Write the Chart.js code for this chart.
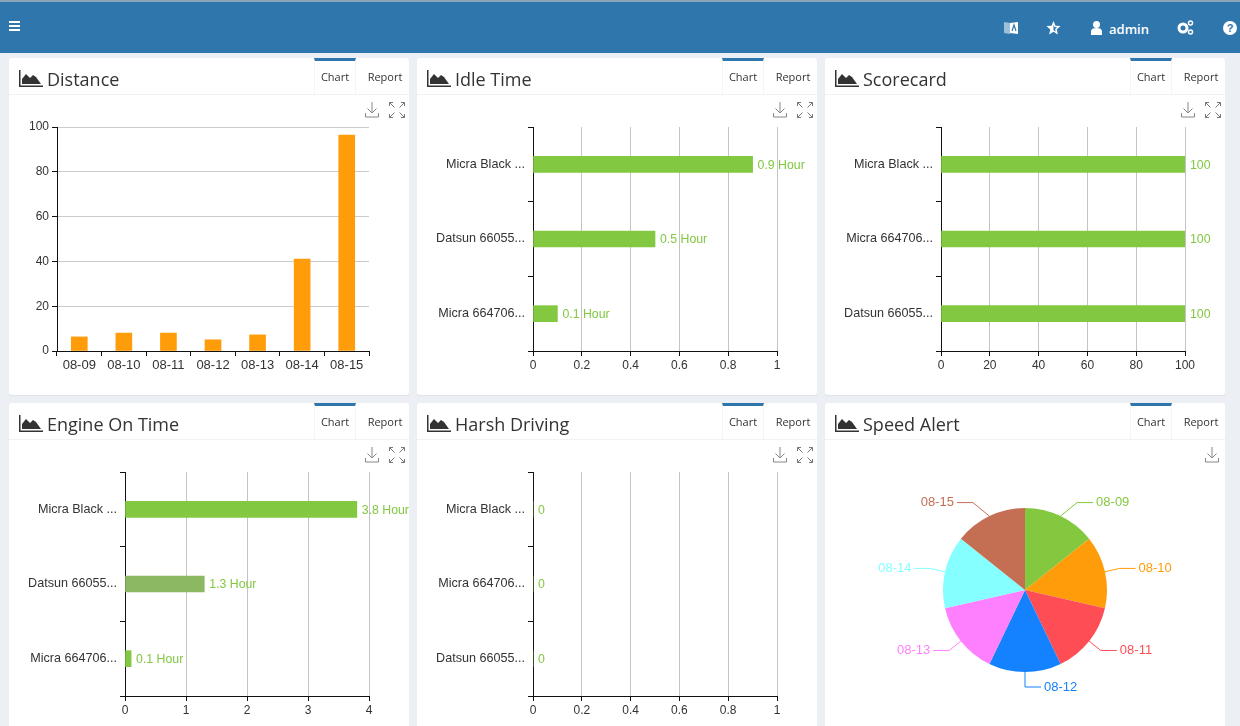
<!DOCTYPE html>
<html lang="en">
<head>
    <meta charset="UTF-8">
    <title>Dashboard</title>
    <script src="https://cdn.jsdelivr.net/npm/chart.js"></script>
    <style>
        html, body { margin: 0; height: 100%; overflow: hidden; }
        body { background-color: #ecf0f5; color: #333; font-family: 'Open Sans', sans-serif; position: relative; width: 1240px; height: 726px; }
        .topbar { position: absolute; left: 0; top: 0; width: 1240px; height: 53px; background-color: #2f76ad; border-top: 2px solid #8aa3b5; box-sizing: border-box; color: #fff; }
        .topbar svg, .topbar span { position: absolute; }
        .panel { position: absolute; width: 400px; height: 337px; background: #fff; border-radius: 3px; box-shadow: 0 1px 1px rgba(0,0,0,0.06); overflow: hidden; }
        .panel canvas { position: absolute; left: 0; top: 0; }
        .head { position: absolute; left: 0; top: 0; width: 400px; height: 37px; border-bottom: 1px solid #f2f2f2; box-sizing: border-box; }
        .title { position: absolute; left: 38px; top: 7px; font-size: 18px; line-height: 28px; color: #333; }
        .head svg { position: absolute; left: 10px; top: 12px; }
        .tab { position: absolute; top: 0; height: 36px; font-size: 11px; line-height: 38px; text-align: center; color: #333; box-sizing: border-box; }
        .tab.chart { left: 305px; width: 42px; border-top: 3px solid #2f76ad; line-height: 32px; border-left: 1px solid #f4f4f4; border-right: 1px solid #f4f4f4; }
        .tab.report { left: 351px; width: 50px; }
        .tool { position: absolute; top: 43px; }
    </style>
</head>
<body>
    <div class="topbar">
        <svg style="left:9px;top:19px" width="11" height="10" viewBox="0 0 11 10"><path d="M0 0h11v2H0zM0 4h11v2H0zM0 8h11v2H0z" fill="#fff"/></svg>
        <svg style="left:1004px;top:19px" width="14" height="14" viewBox="0 0 14 14"><path d="M0 1l6 1v11l-6-1z" fill="#9cc0da"/><path d="M6 2l8-1v12l-8-1z" fill="#fff"/><path d="M8 10l2-6 2 6" fill="none" stroke="#2f76ad" stroke-width="1.2"/></svg>
        <svg style="left:1046px;top:19px" width="15" height="14" viewBox="0 0 15 14"><path d="M7.5 0l2 4.7 5 .4-3.8 3.3 1.2 5L7.5 10.7 3.100 13.400l1.200-5L.5 5.100l5-.4z" fill="#fff"/><path d="M7.5 3.500l1 2.600 2.600.2-2 1.700.6 2.600-2.200-1.300z" fill="#2f76ad"/></svg>
        <svg style="left:1091px;top:19px" width="11" height="14" viewBox="0 0 11 14"><circle cx="5.500" cy="3.500" r="3.500" fill="#fff"/><path d="M0 14v-3.500C0 8 2 7 5.500 7S11 8 11 10.500V14z" fill="#fff"/></svg>
        <span style="left:1109px;top:17px;font-size:13px;font-weight:600;line-height:20px">admin</span>
        <svg style="left:1177px;top:18px" width="17" height="15" viewBox="0 0 17 15"><circle cx="6" cy="8" r="4" fill="none" stroke="#fff" stroke-width="3"/><circle cx="13.500" cy="3" r="2" fill="none" stroke="#fff" stroke-width="1.500"/><circle cx="13.500" cy="12" r="2" fill="none" stroke="#fff" stroke-width="1.500"/></svg>
        <svg style="left:1223px;top:19px" width="14" height="14" viewBox="0 0 14 14"><circle cx="7" cy="7" r="7" fill="#fff"/><text x="7" y="11" font-size="11" font-weight="700" text-anchor="middle" fill="#2f76ad" font-family="Liberation Sans">?</text></svg>
    </div>

    <div id="panels"></div>

    <script>
        // Distance
        const distanceDays = ['08-09', '08-10', '08-11', '08-12', '08-13', '08-14', '08-15'];
        const distanceValues = [6.3, 8, 8, 5, 7.2, 41, 96.4];
        const distanceTicks = [0, 20, 40, 60, 80, 100];

        // Idle Time
        const idleVehicles = ['Micra Black ...', 'Datsun 66055...', 'Micra 664706...'];
        const idleValues = [0.9, 0.5, 0.1];

        // Scorecard
        const scoreVehicles = ['Micra Black ...', 'Micra 664706...', 'Datsun 66055...'];
        const scoreValues = [100, 100, 100];

        // Engine On Time
        const engineVehicles = ['Micra Black ...', 'Datsun 66055...', 'Micra 664706...'];
        const engineValues = [3.8, 1.3, 0.1];

        // Harsh Driving
        const harshVehicles = ['Micra Black ...', 'Micra 664706...', 'Datsun 66055...'];
        const harshValues = [0, 0, 0];

        // Speed Alert
        const speedDays = ['08-09', '08-10', '08-11', '08-12', '08-13', '08-14', '08-15'];
        const speedValues = [1, 1, 1, 1, 1, 1, 1];
        const speedColors = ['#84c83f', '#ff9c0a', '#ff4d55', '#1482ff', '#ff80ff', '#85ffff', '#c46f53'];

        const GREEN = '#82c841';
        const ORANGE = '#ff9c0a';
        const FONT = "'Liberation Sans', Arial, sans-serif";
        Chart.defaults.font.family = FONT;
        Chart.defaults.font.size = 12;
        Chart.defaults.color = '#333';

        const areaIcon = '<svg width="24" height="17" viewBox="0 0 24 17"><path d="M0 0h1.500v15.500H24V17H0z" fill="#333"/><path d="M3 14V9l4-5 4 4 3-3 3 2 5 7z" fill="#333"/></svg>';
        const saveIcon = '<svg width="14" height="16" viewBox="0 0 14 16"><path d="M7 0v11M2.500 6.500L7 11l4.500-4.500M.5 11v4h13v-4" fill="none" stroke="#888" stroke-width="1"/></svg>';
        const zoomIcon = '<svg width="16" height="16" viewBox="0 0 16 16"><path d="M.5 4V.5H4M.5 .5l5 5M15.500 4V.5H12M15.500 .5l-5 5M.5 12v3.500H4M.5 15.500l5-5M15.500 12v3.500H12M15.500 15.500l-5-5" fill="none" stroke="#777" stroke-width="1"/></svg>';

        function addPanel(id, title, left, top, withZoom) {
            const el = document.createElement('div');
            el.className = 'panel';
            el.style.left = left + 'px';
            el.style.top = top + 'px';
            el.innerHTML = `<canvas id="${id}" width="400" height="337"></canvas>
                <div class="head">${areaIcon}<div class="title">${title}</div>
                <div class="tab chart">Chart</div><div class="tab report">Report</div></div>
                <div class="tool" style="left:${withZoom ? 356 : 380}px">${saveIcon}</div>
                ${withZoom ? `<div class="tool" style="left:380px">${zoomIcon}</div>` : ''}`;
            document.getElementById('panels').appendChild(el);
            return document.getElementById(id);
        }

        const fixedWidth = (w) => (scale) => { scale.width = w; };
        const fixedHeight = (h) => (scale) => { scale.height = h; };

        // value label to the right of each horizontal bar
        const barLabels = {
            id: 'barLabels',
            afterDatasetsDraw(chart, args, opts) {
                const ctx = chart.ctx;
                const meta = chart.getDatasetMeta(0);
                ctx.save();
                ctx.font = '12.3px ' + FONT;
                ctx.fillStyle = GREEN;
                ctx.textBaseline = 'middle';
                meta.data.forEach((bar, i) => {
                    ctx.fillText(chart.data.datasets[0].data[i] + (opts.suffix || ''), bar.x + 5, bar.y + 1);
                });
                ctx.restore();
            }
        };

        // pie labels with leader lines
        const pieLabels = {
            id: 'pieLabels',
            afterDatasetsDraw(chart) {
                const ctx = chart.ctx;
                ctx.save();
                ctx.font = '13px ' + FONT;
                ctx.textBaseline = 'middle';
                chart.getDatasetMeta(0).data.forEach((arc, i) => {
                    const mid = (arc.startAngle + arc.endAngle) / 2;
                    const c = Math.cos(mid), s = Math.sin(mid);
                    const r = arc.outerRadius;
                    const right = c >= -0.001;
                    const dir = right ? 1 : -1;
                    // the two top slices bend further out
                    const bendX = arc.x + (r + 15) * c + (s < -0.85 ? dir * 10 : 0);
                    const bendY = arc.y + (r + 15) * s;
                    const endX = bendX + dir * 16;
                    ctx.strokeStyle = speedColors[i];
                    ctx.fillStyle = speedColors[i];
                    ctx.lineWidth = 1;
                    ctx.beginPath();
                    ctx.moveTo(arc.x + r * c, arc.y + r * s);
                    ctx.lineTo(bendX, bendY);
                    ctx.lineTo(endX, bendY);
                    ctx.stroke();
                    ctx.textAlign = right ? 'left' : 'right';
                    ctx.fillText(chart.data.labels[i], endX + dir * 3, bendY);
                });
                ctx.restore();
            }
        };

        function drawColumnChart(canvas, labels, values, ticks) {
            return new Chart(canvas, {
                type: 'bar',
                data: { labels: labels, datasets: [{ data: values, backgroundColor: ORANGE, barThickness: 16 }] },
                options: {
                    responsive: false,
                    animation: false,
                    layout: { padding: { top: 69, right: 40, bottom: 24 } },
                    plugins: { legend: { display: false }, tooltip: { enabled: false } },
                    scales: {
                        x: {
                            afterFit: fixedHeight(20),
                            grid: { offset: true, drawOnChartArea: false, color: '#111', tickLength: 5 },
                            border: { color: '#111' },
                            ticks: { maxRotation: 0, autoSkip: false, padding: 2, font: { size: 13 } }
                        },
                        y: {
                            min: 0,
                            max: ticks[ticks.length - 1],
                            afterFit: fixedWidth(48),
                            afterBuildTicks: (scale) => { scale.ticks = ticks.map(v => ({ value: v })); },
                            grid: { color: '#ccc', tickColor: '#111', tickLength: 5 },
                            border: { color: '#111' },
                            ticks: { padding: 3 }
                        }
                    }
                }
            });
        }

        function drawHorizontalChart(canvas, labels, values, max, step, suffix, barColors) {
            return new Chart(canvas, {
                type: 'bar',
                data: {
                    labels: labels,
                    datasets: [{
                        data: values,
                        backgroundColor: barColors || GREEN,
                        barThickness: 16
                    }]
                },
                plugins: [barLabels],
                options: {
                    indexAxis: 'y',
                    responsive: false,
                    animation: false,
                    layout: { padding: { top: 69, right: 40, bottom: 24 } },
                    plugins: {
                        legend: { display: false },
                        tooltip: { enabled: false },
                        barLabels: { suffix: suffix }
                    },
                    scales: {
                        x: {
                            min: 0,
                            max: max,
                            afterFit: fixedHeight(20),
                            grid: { color: '#c4c4c4', tickColor: '#111', tickLength: 5 },
                            border: { color: '#111' },
                            ticks: { stepSize: step, padding: 2, maxRotation: 0, callback: (v) => String(+v.toFixed(2)) }
                        },
                        y: {
                            afterFit: fixedWidth(116),
                            grid: { offset: true, drawOnChartArea: false, color: '#111', tickLength: 5 },
                            border: { color: '#111' },
                            ticks: { padding: 3, autoSkip: false, font: { size: 12.6 } }
                        }
                    }
                }
            });
        }

        function drawPieChart(canvas, labels, values) {
            return new Chart(canvas, {
                type: 'pie',
                data: { labels: labels, datasets: [{ data: values, backgroundColor: speedColors, borderWidth: 0 }] },
                plugins: [pieLabels],
                options: {
                    responsive: false,
                    animation: false,
                    layout: { padding: { left: 118, right: 118, top: 105, bottom: 68 } },
                    plugins: { legend: { display: false }, tooltip: { enabled: false } }
                }
            });
        }

        drawColumnChart(addPanel('distance', 'Distance', 9, 58, true), distanceDays, distanceValues, distanceTicks);
        drawHorizontalChart(addPanel('idle', 'Idle Time', 417, 58, true), idleVehicles, idleValues, 1, 0.2, ' Hour');
        drawHorizontalChart(addPanel('score', 'Scorecard', 825, 58, true), scoreVehicles, scoreValues, 100, 20, '');
        drawHorizontalChart(addPanel('engine', 'Engine On Time', 9, 403, true), engineVehicles, engineValues, 4, 1, ' Hour', [GREEN, '#8db863', GREEN]);
        drawHorizontalChart(addPanel('harsh', 'Harsh Driving', 417, 403, true), harshVehicles, harshValues, 1, 0.2, '');
        drawPieChart(addPanel('speed', 'Speed Alert', 825, 403, false), speedDays, speedValues);
    </script>
</body>
</html>
